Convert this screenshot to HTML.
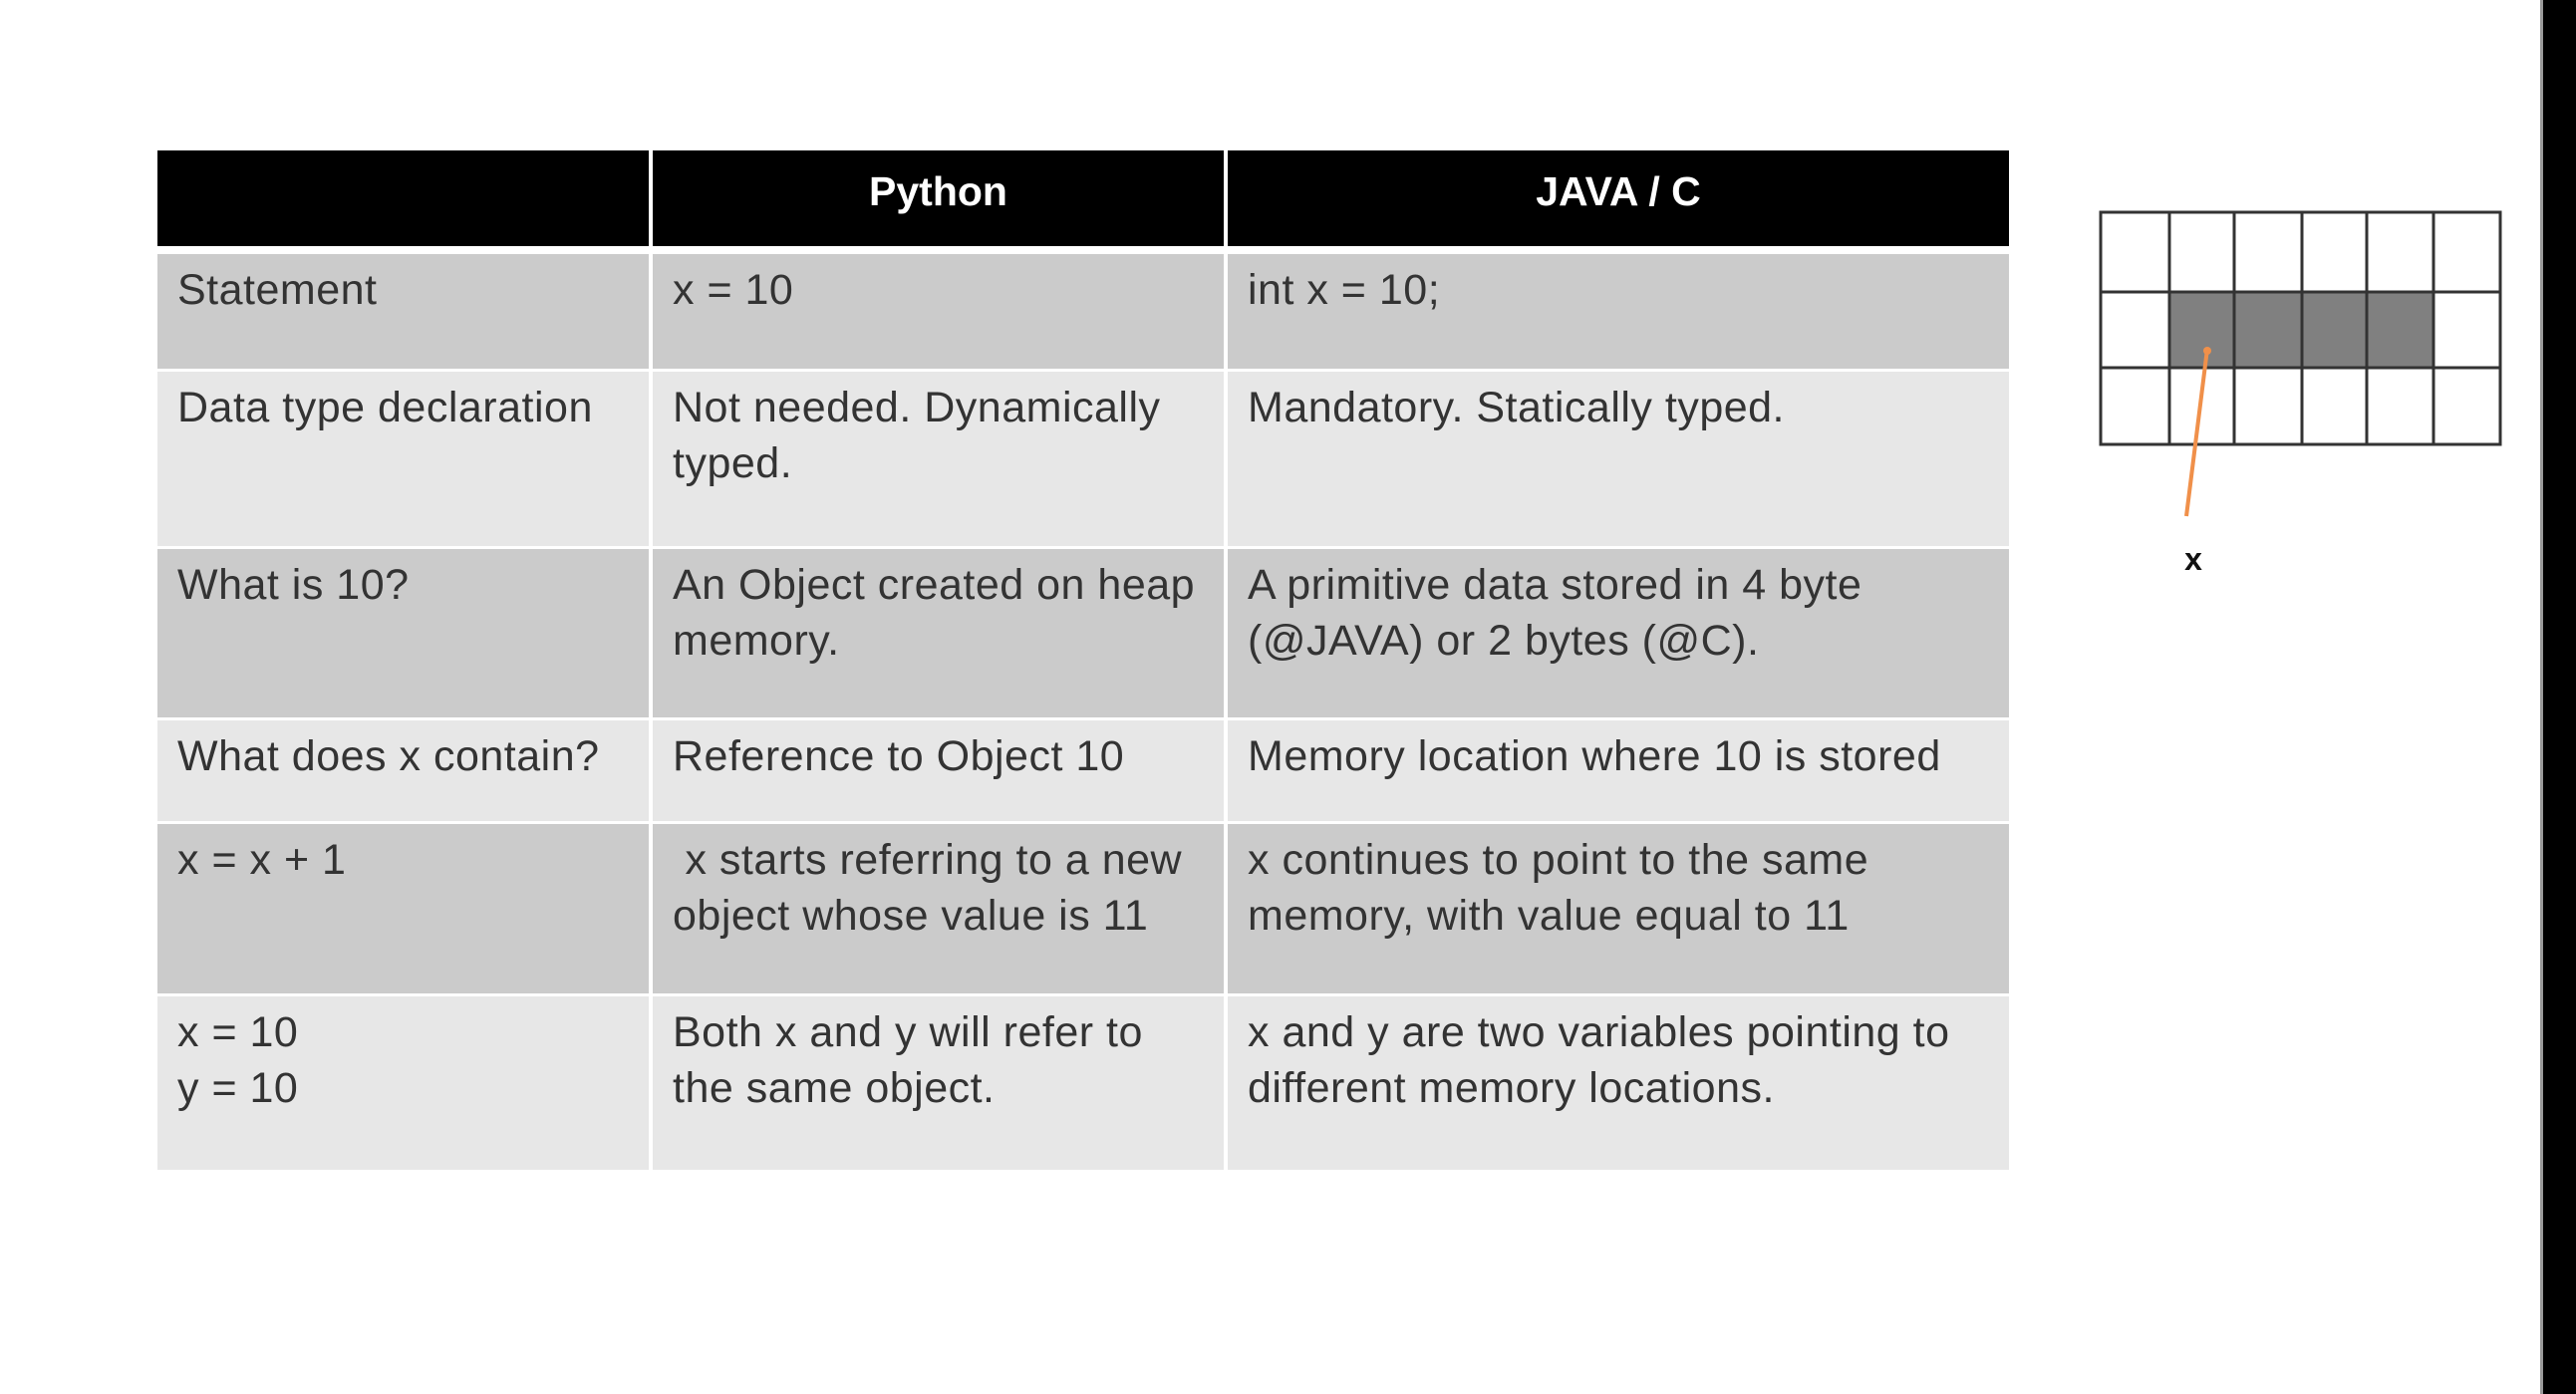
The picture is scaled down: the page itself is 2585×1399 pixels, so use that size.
<!DOCTYPE html>
<html><head><meta charset="utf-8"><style>
html,body{margin:0;padding:0;background:#fff;}
body{width:2585px;height:1399px;position:relative;overflow:hidden;font-family:"Liberation Sans",sans-serif;}
.c{position:absolute;box-sizing:border-box;padding:8px 0 0 20px;font-size:43px;line-height:56px;color:#333;letter-spacing:0.5px;white-space:nowrap;}
.h{position:absolute;background:#000;color:#fff;font-weight:bold;font-size:41px;text-align:center;line-height:82px;}
.o{background:#cbcbcb;}.e{background:#e7e7e7;}
</style></head><body>
<div class="h" style="left:158px;top:151px;width:493px;height:96px"></div>
<div class="h" style="left:655px;top:151px;width:573px;height:96px">Python</div>
<div class="h" style="left:1232px;top:151px;width:784px;height:96px">JAVA / C</div>

<div class="c o" style="left:158px;top:255px;width:493px;height:115px">Statement</div>
<div class="c o" style="left:655px;top:255px;width:573px;height:115px">x = 10</div>
<div class="c o" style="left:1232px;top:255px;width:784px;height:115px">int x = 10;</div>

<div class="c e" style="left:158px;top:373px;width:493px;height:175px">Data type declaration</div>
<div class="c e" style="left:655px;top:373px;width:573px;height:175px">Not needed. Dynamically<br>typed.</div>
<div class="c e" style="left:1232px;top:373px;width:784px;height:175px">Mandatory. Statically typed.</div>

<div class="c o" style="left:158px;top:551px;width:493px;height:169px">What is 10?</div>
<div class="c o" style="left:655px;top:551px;width:573px;height:169px">An Object created on heap<br>memory.</div>
<div class="c o" style="left:1232px;top:551px;width:784px;height:169px">A primitive data stored in 4 byte<br>(@JAVA) or 2 bytes (@C).</div>

<div class="c e" style="left:158px;top:723px;width:493px;height:101px">What does x contain?</div>
<div class="c e" style="left:655px;top:723px;width:573px;height:101px">Reference to Object 10</div>
<div class="c e" style="left:1232px;top:723px;width:784px;height:101px">Memory location where 10 is stored</div>

<div class="c o" style="left:158px;top:827px;width:493px;height:170px">x = x + 1</div>
<div class="c o" style="left:655px;top:827px;width:573px;height:170px">&nbsp;x starts referring to a new<br>object whose value is 11</div>
<div class="c o" style="left:1232px;top:827px;width:784px;height:170px">x continues to point to the same<br>memory, with value equal to 11</div>

<div class="c e" style="left:158px;top:1000px;width:493px;height:174px">x = 10<br>y = 10</div>
<div class="c e" style="left:655px;top:1000px;width:573px;height:174px">Both x and y will refer to<br>the same object.</div>
<div class="c e" style="left:1232px;top:1000px;width:784px;height:174px">x and y are two variables pointing to<br>different memory locations.</div>

<svg style="position:absolute;left:0;top:0" width="2585" height="1399">
<rect x="2177" y="293" width="265" height="76" fill="#808080"/>
<g stroke="#333" stroke-width="3" fill="none">
<rect x="2108" y="213" width="401" height="233"/>
<line x1="2108" y1="293" x2="2509" y2="293"/>
<line x1="2108" y1="369" x2="2509" y2="369"/>
<line x1="2177" y1="213" x2="2177" y2="446"/>
<line x1="2242" y1="213" x2="2242" y2="446"/>
<line x1="2310" y1="213" x2="2310" y2="446"/>
<line x1="2375" y1="213" x2="2375" y2="446"/>
<line x1="2442" y1="213" x2="2442" y2="446"/>
</g>
<line x1="2215" y1="350" x2="2194" y2="518" stroke="#f0904a" stroke-width="4"/>
<circle cx="2215" cy="352" r="4" fill="#f0904a"/>
<text x="2201" y="572" font-family="Liberation Sans" font-weight="bold" font-size="32" text-anchor="middle" fill="#111">x</text>
<rect x="2549" y="0" width="3" height="1399" fill="#999"/>
<rect x="2552" y="0" width="33" height="1399" fill="#000"/>
</svg>
</body></html>
